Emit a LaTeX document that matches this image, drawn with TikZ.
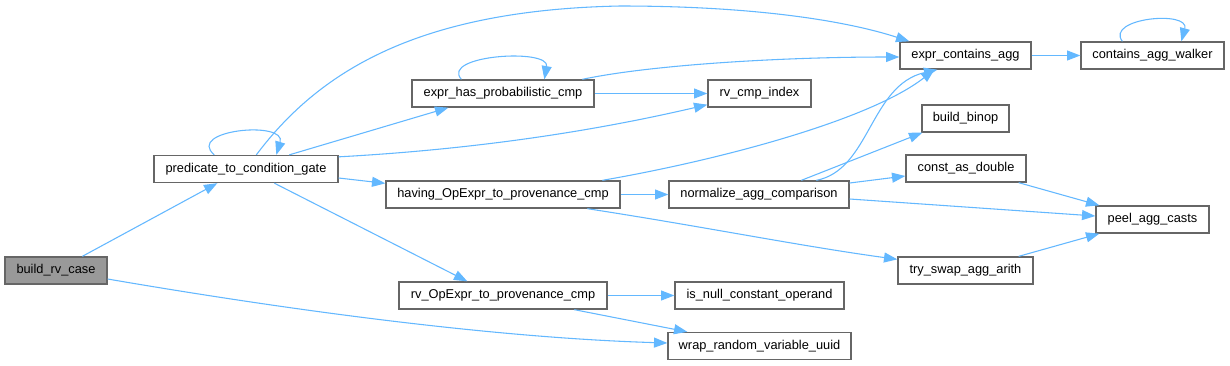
\documentclass[tikz,border=0pt]{standalone}
\usepackage{fontspec}
\setmainfont{Liberation Sans}
\usetikzlibrary{arrows.meta,calc}
\definecolor{edgec}{HTML}{63B8FF}
\definecolor{bord}{HTML}{666666}
\definecolor{curfill}{HTML}{999999}
\begin{document}
\begin{tikzpicture}[x=0.75pt,y=-0.75pt,
 fn/.style={draw=bord,line width=1pt,fill=white,minimum height=20.25pt,inner sep=0pt,font=\fontsize{9.6}{11}\selectfont},
 cur/.style={fn,fill=curfill},
 call/.style={draw=edgec,line width=0.8pt,-{Triangle[length=10pt,width=7.5pt]}}]
\useasboundingbox[fill=white] (0,0) rectangle (1230,365);
% nodes
\node[cur,minimum width=76.5pt]  (brc)  at (56,270.5)   {build\_rv\_case};
\node[fn,minimum width=138pt]    (pcg)  at (246,169)    {predicate\_to\_condition\_gate};
\node[fn,minimum width=136.5pt]  (ehpc) at (503,93.5)   {expr\_has\_probabilistic\_cmp};
\node[fn,minimum width=77.25pt]  (rci)  at (759.5,93.5) {rv\_cmp\_index};
\node[fn,minimum width=175.5pt]  (hop)  at (503,194.5)  {having\_OpExpr\_to\_provenance\_cmp};
\node[fn,minimum width=135pt]    (nac)  at (759,194.5)  {normalize\_agg\_comparison};
\node[fn,minimum width=156pt]    (rop)  at (503,295.5)  {rv\_OpExpr\_to\_provenance\_cmp};
\node[fn,minimum width=126.75pt] (inc)  at (759.5,295.5) {is\_null\_constant\_operand};
\node[fn,minimum width=137.25pt] (wrv)  at (759.5,346)  {wrap\_random\_variable\_uuid};
\node[fn,minimum width=98.25pt]  (eca)  at (965.5,55.5) {expr\_contains\_agg};
\node[fn,minimum width=107.25pt] (caw)  at (1152.5,55.5) {contains\_agg\_walker};
\node[fn,minimum width=65.25pt]  (bb)   at (965.5,118.5) {build\_binop};
\node[fn,minimum width=90pt]     (cad)  at (966,168.5)  {const\_as\_double};
\node[fn,minimum width=84.75pt]  (pac)  at (1152.5,219.5) {peel\_agg\_casts};
\node[fn,minimum width=101.25pt] (tsa)  at (965.5,270.5) {try\_swap\_agg\_arith};
% edges
\draw[call] ($(brc.north west)+(78,0)$) -- ($(pcg.south west)+(64,0)$);
\draw[call] ($(brc.east)+(0,8.5)$) .. controls (300,312) and (500,338) .. ($(wrv.west)+(0,-3)$);
\draw[call] ($(pcg.north west)+(61,0)$) .. controls (185,130) and (287,120) .. ($(pcg.north west)+(123,0)$);
\draw[call] ($(pcg.north west)+(103,0)$) .. controls (320,70) and (420,10) .. (620,6)
            .. controls (760,6) and (850,22) .. ($(eca.north west)+(10,0)$);
\draw[call] ($(pcg.north west)+(136,0)$) -- ($(ehpc.south west)+(37,0)$);
\draw[call] ($(pcg.north east)+(0,2)$) .. controls (500,148) and (620,125) .. ($(rci.south west)+(0,-3)$);
\draw[call] ($(pcg.east)+(0,9)$) -- ($(hop.north west)+(0,3)$);
\draw[call] ($(pcg.south west)+(121,0)$) -- ($(rop.north west)+(69,0)$);
\draw[call] ($(ehpc.north west)+(50,0)$) .. controls (440,55) and (550,48) .. ($(ehpc.north west)+(133,0)$);
\draw[call] ($(ehpc.north west)+(171,0)$) .. controls (650,65) and (780,57) .. ($(eca.west)+(0,1.5)$);
\draw[call] (ehpc.east) -- (rci.west);
\draw[call] ($(hop.north west)+(217,0)$) .. controls (720,160) and (870,120) .. ($(eca.south west)+(35,0)$);
\draw[call] (hop.east) -- (nac.west);
\draw[call] ($(hop.south west)+(202,0)$) .. controls (700,226) and (800,246) .. ($(tsa.north west)+(0,3)$);
\draw[call] ($(nac.north west)+(133,0)$) -- ($(bb.south west)+(1,0)$);
\draw[call] ($(nac.north west)+(148,0)$) .. controls (870,170) and (870,85) .. ($(eca.south west)+(38,0)$);
\draw[call] ($(nac.east)+(0,-11.5)$) -- ($(cad.west)+(0,7.5)$);
\draw[call] ($(nac.east)+(0,4.5)$) -- ($(pac.west)+(0,-3.5)$);
\draw[call] ($(cad.south east)+(-8,0)$) -- ($(pac.north west)+(4,0)$);
\draw[call] ($(tsa.north east)+(-15,0)$) -- ($(pac.south west)+(4,0)$);
\draw[call] (eca.east) -- (caw.west);
\draw[call] ($(caw.north west)+(42,0)$) .. controls (1105,18) and (1190,10) .. ($(caw.north west)+(101,0)$);
\draw[call] (rop.east) -- (inc.west);
\draw[call] ($(rop.south west)+(176,0)$) -- ($(wrv.north west)+(20,0)$);
\end{tikzpicture}
\end{document}
